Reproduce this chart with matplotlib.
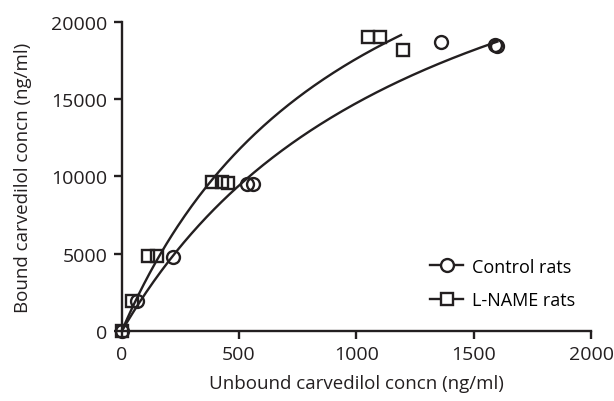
import numpy as np
import matplotlib
matplotlib.use('Agg')
import matplotlib.pyplot as plt

plt.rcParams['font.family'] = ['Open Sans', 'DejaVu Sans']

# Data (unbound vs bound carvedilol, ng/ml)
control_unbound = [0, 64, 217, 533, 561, 1359, 1591, 1600]
control_bound = [0, 1950, 4800, 9520, 9520, 18700, 18500, 18450]
lname_unbound = [0, 43, 113, 149, 383, 426, 454, 1051, 1100, 1197]
lname_bound = [0, 1980, 4850, 4850, 9650, 9650, 9600, 19000, 19000, 18150]

# Fitted saturable binding curves (Bmax, Kd) as drawn in the figure
control_fit = (33900, 1300)
lname_fit = (35200, 1000)
lname_curve_end = 1190

ink = '#231f20'

fig = plt.figure(figsize=(6.14, 4.02), dpi=100)
ax = fig.add_axes([0.198, 0.173, 0.765, 0.771])

def binding(x, bmax, kd):
    return bmax * x / (kd + x)

xc = np.linspace(0, max(control_unbound), 200)
xl = np.linspace(0, lname_curve_end, 200)
ax.plot(xc, binding(xc, *control_fit), color=ink, lw=1.7)
ax.plot(xl, binding(xl, *lname_fit), color=ink, lw=1.7)

ax.plot(control_unbound, control_bound, 'o', ms=9.3, mew=1.7, mec=ink,
        fillstyle='none', clip_on=False, zorder=3)
ax.plot(lname_unbound, lname_bound, 's', ms=9.3, mew=1.7, mec=ink,
        fillstyle='none', clip_on=False, zorder=3)

# legend handles: line with marker
h1, = ax.plot([], [], '-o', color=ink, ms=9.3, mew=1.7, lw=1.7,
              mfc='white', mec=ink)
h2, = ax.plot([], [], '-s', color=ink, ms=9.3, mew=1.7, lw=1.7,
              mfc='white', mec=ink)
ax.legend([h1, h2], ['Control rats', 'L-NAME rats'], loc='lower right',
          bbox_to_anchor=(1.0, 0.02), frameon=False, fontsize=13,
          handlelength=1.8, handletextpad=0.5, labelspacing=0.85)

ax.set_xlim(0, 2000)
ax.set_ylim(0, 20000)
ax.set_xticks([0, 500, 1000, 1500, 2000])
ax.set_yticks([0, 5000, 10000, 15000, 20000])
for s in ['top', 'right']:
    ax.spines[s].set_visible(False)
for s in ['left', 'bottom']:
    ax.spines[s].set_linewidth(1.7)
    ax.spines[s].set_color(ink)
ax.tick_params(length=6, width=1.7, color=ink, labelsize=14, labelcolor=ink,
               pad=4)

ax.set_xlabel('Unbound carvedilol concn (ng/ml)', fontsize=13.5, color=ink,
              labelpad=8)
ax.set_ylabel('Bound carvedilol concn (ng/ml)', fontsize=13.5, color=ink,
              labelpad=14)

fig.savefig('out.png', dpi=100)
